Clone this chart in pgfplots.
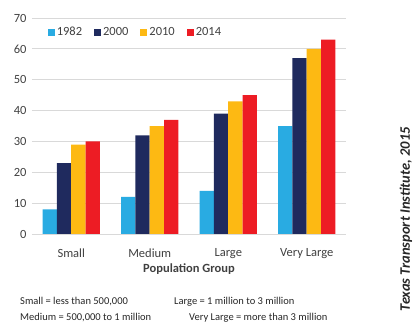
\documentclass[border=0pt]{standalone}
\usepackage{pgfplots}
\pgfplotsset{compat=1.18}
\usepackage{fontspec}
\setmainfont{Carlito}
\definecolor{cA}{HTML}{29ABE2}
\definecolor{cB}{HTML}{1F2A5E}
\definecolor{cC}{HTML}{FDB913}
\definecolor{cD}{HTML}{ED1C24}
\definecolor{txt}{HTML}{404040}
\definecolor{gridgray}{HTML}{D9D9D9}
\begin{document}
\begin{tikzpicture}
\useasboundingbox (0pt,0pt) rectangle (415pt,324pt);
\begin{axis}[
  at={(32pt,90pt)}, anchor=south west,
  scale only axis, width=314pt, height=216pt,
  ymin=0, ymax=70, xmin=-0.5, xmax=3.5,
  ytick={0,10,...,70},
  xtick={0,1,2,3},
  xticklabels={Small,Medium,Large,Very Large},
  ymajorgrids, xmajorgrids=false,
  grid style={draw=gridgray, line width=0.8pt},
  axis line style={draw=none},
  major tick length=0pt,
  ybar=0pt, bar width=14.3pt,
  /pgf/number format/assume math mode=true,
  tick label style={font=\fontsize{12.5}{14}\selectfont, text=txt},
  yticklabel style={xshift=-2pt},
  xticklabel style={yshift=-11pt},
  xlabel={\textbf{Population Group}},
  xlabel style={font=\fontsize{12.5}{14}\selectfont, text=txt, yshift=2pt},
  legend style={at={(0.04,0.935)}, anchor=west, draw=none, fill=none,
    legend columns=-1, font=\fontsize{12.5}{14}\selectfont, text=txt,
    /tikz/every even column/.append style={column sep=10pt}},
  legend image code/.code={\fill[#1] (0pt,-3.5pt) rectangle (7pt,3.5pt);},
]
\addplot[fill=cA, draw=none] coordinates {(0,8) (1,12) (2,14) (3,35)};
\addplot[fill=cB, draw=none] coordinates {(0,23) (1,32) (2,39) (3,57)};
\addplot[fill=cC, draw=none] coordinates {(0,29) (1,35) (2,43) (3,60)};
\addplot[fill=cD, draw=none] coordinates {(0,30) (1,37) (2,45) (3,63)};
\legend{1982,2000,2010,2014}
\end{axis}
\begin{scope}[every node/.style={font=\fontsize{10.5}{12}\selectfont, anchor=west, inner sep=0pt, text=black!85}]
\node at (20pt,22pt) {Small = less than 500,000};
\node at (20pt,6pt) {Medium = 500,000 to 1 million};
\node at (174pt,22pt) {Large = 1 million to 3 million};
\node at (189pt,6pt) {Very Large = more than 3 million};
\end{scope}
\node[rotate=90, font=\fontsize{14.5}{16}\selectfont\bfseries\itshape, text=black!85, inner sep=0pt] at (406pt,105pt) {Texas Transport Institute, 2015};
\end{tikzpicture}
\end{document}
